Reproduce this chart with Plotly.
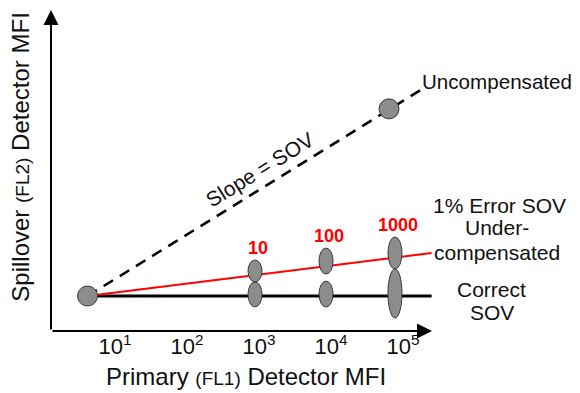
import numpy as np
import plotly.graph_objects as go

# ---------------- data (schematic values) ----------------
tick_exponents = [1, 2, 3, 4, 5]
tick_labels = ["10<sup>1</sup>", "10<sup>2</sup>", "10<sup>3</sup>", "10<sup>4</sup>", "10<sup>5</sup>"]

start_mfi = 4.15          # origin population (primary MFI)
start_spill = 10.9        # its spillover MFI (arbitrary units)

uncomp_line_mfi = [4.15, 195000]
uncomp_line_spill = [10.9, 75.7]
uncomp_point_mfi = [64000]
uncomp_point_spill = [69.2]

under_line_mfi = [4.15, 250000]
under_line_spill = [10.9, 24.3]

correct_line_mfi = [4.15, 250000]
correct_line_spill = [10.9, 10.9]

stain_labels = ["10", "100", "1000"]
pop_mfi = [880, 8530, 77400]
under_pop_spill = [18.7, 21.8, 24.3]
under_pop_spread = [6.85, 8.1, 10.0]
correct_pop_spill = [11.4, 11.5, 11.7]
correct_pop_spread = [7.8, 8.1, 15.3]

x_range = [0.111, 5.403]   # log10 of primary MFI
y_range = [0, 100]

# ---------------- figure ----------------
FONT = "Arial, 'Liberation Sans', sans-serif"
TXT = "#111111"
lx = lambda v: [float(t) for t in np.log10(v)]

fig = go.Figure()

fig.add_trace(go.Scatter(x=lx(correct_line_mfi), y=correct_line_spill, mode="lines",
                         line=dict(color="black", width=3), hoverinfo="skip"))
fig.add_trace(go.Scatter(x=lx(under_line_mfi), y=under_line_spill, mode="lines",
                         line=dict(color="#ff0000", width=2), hoverinfo="skip"))
fig.add_trace(go.Scatter(x=lx(uncomp_line_mfi), y=uncomp_line_spill, mode="lines",
                         line=dict(color="black", width=2.6, dash="11px,8px"), hoverinfo="skip"))

shapes = []
for xm, yc, h in list(zip(pop_mfi, correct_pop_spill, correct_pop_spread)) + \
        list(zip(pop_mfi, under_pop_spill, under_pop_spread)):
    shapes.append(dict(type="circle", xref="x", yref="y", xsizemode="pixel",
                       xanchor=float(np.log10(xm)), x0=-7, x1=7,
                       y0=yc - h / 2, y1=yc + h / 2,
                       fillcolor="#8c8c8c", line=dict(color="#3a3a3a", width=1), layer="above"))

fig.add_trace(go.Scatter(x=lx([start_mfi]) + lx(uncomp_point_mfi), y=[start_spill] + uncomp_point_spill,
                         mode="markers",
                         marker=dict(size=20, color="#8c8c8c", line=dict(color="#3a3a3a", width=1)),
                         hoverinfo="skip"))

annotations = []
# axis arrows
annotations.append(dict(x=x_range[1], y=y_range[0], ax=x_range[0], ay=y_range[0],
                        xref="x", yref="y", axref="x", ayref="y", text="", showarrow=True,
                        arrowhead=2, arrowsize=1.5, arrowwidth=2, arrowcolor="black", standoff=0))
annotations.append(dict(x=x_range[0], y=y_range[1], ax=x_range[0], ay=y_range[0],
                        xref="x", yref="y", axref="x", ayref="y", text="", showarrow=True,
                        arrowhead=2, arrowsize=1.5, arrowwidth=2, arrowcolor="black", standoff=0))

# stain labels
for xm, yc, h, lab in zip(pop_mfi, under_pop_spill, under_pop_spread, stain_labels):
    annotations.append(dict(x=float(np.log10(xm)), y=yc + h / 2, xref="x", yref="y",
                            text="<b>%s</b>" % lab, showarrow=False, yanchor="bottom",
                            xshift=3, yshift=0, font=dict(family=FONT, size=18, color="#ff0000")))

def pa(text, x, y, xanchor="center", size=21, angle=0):
    annotations.append(dict(x=x, y=y, xref="paper", yref="paper", text=text, showarrow=False,
                            xanchor=xanchor, yanchor="middle", textangle=angle,
                            font=dict(family=FONT, size=size, color=TXT)))

pa("Uncompensated", 0.968, 0.776, xanchor="left", size=20.6)
pa("1% Error SOV", 1.176, 0.3925)
pa("Under-", 1.171, 0.321)
pa("compensated", 1.171, 0.246)
pa("Correct", 1.157, 0.128)
pa("SOV", 1.157, 0.059)
pa("Slope = SOV", 0.5486, 0.5016, angle=-31.8)
pa("Primary <span style='font-size:19px'>(FL1)</span> Detector MFI", 0.513, -0.143, size=24)
pa("Spillover <span style='font-size:19px'>(FL2)</span> Detector MFI", -0.0787, 0.540, size=24, angle=-90)

# the page adds an 8px body margin, so the figure is 8px smaller than the window
fig.update_layout(
    width=572, height=385,
    margin=dict(l=43, r=148, t=2, b=62),
    paper_bgcolor="white", plot_bgcolor="white",
    showlegend=False,
    shapes=shapes, annotations=annotations,
    xaxis=dict(range=x_range, tickvals=tick_exponents, ticktext=tick_labels,
               showgrid=False, zeroline=False, showline=False, ticks="",
               tickfont=dict(family=FONT, size=22, color=TXT)),
    yaxis=dict(range=y_range, showgrid=False, zeroline=False, showline=False,
               showticklabels=False, ticks=""),
)

fig.write_html("out.html")
